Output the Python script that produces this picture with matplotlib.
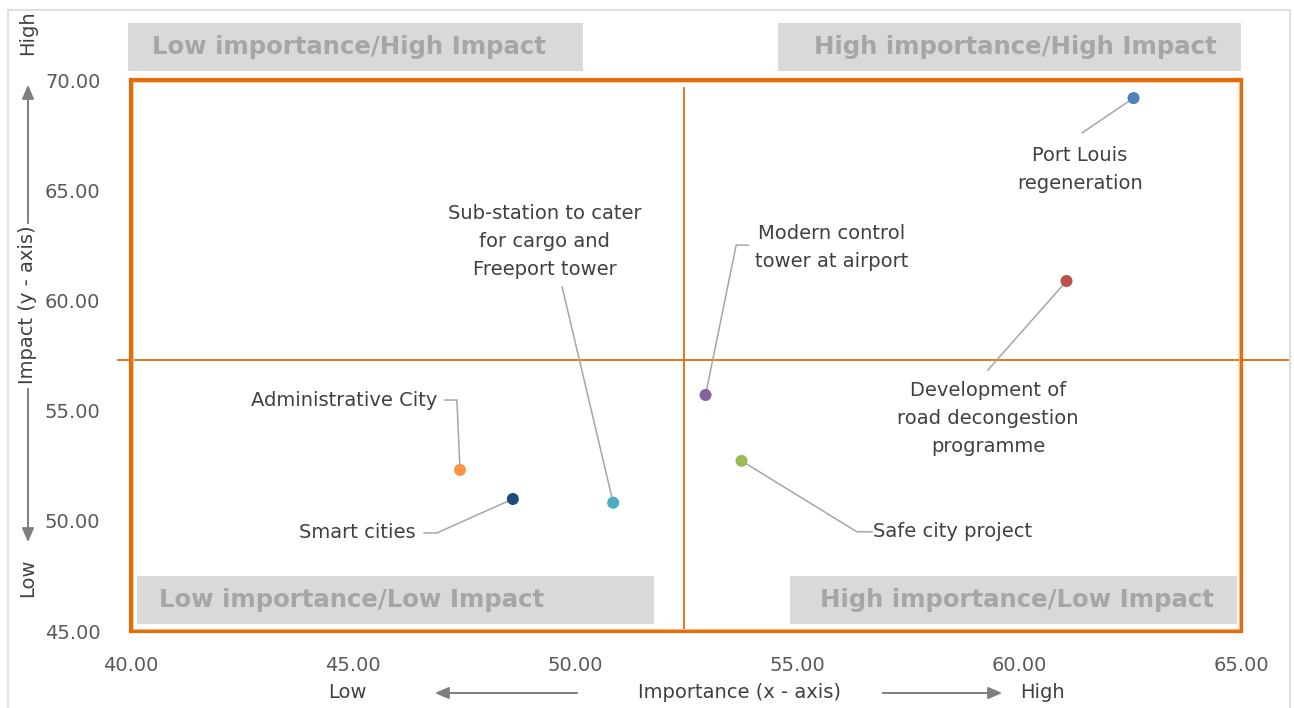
import matplotlib
matplotlib.use("Agg")
import matplotlib.pyplot as plt
from matplotlib.patches import Rectangle, FancyArrowPatch

# Project portfolio: importance vs impact
projects = [
    "Port Louis\nregeneration",
    "Development of\nroad decongestion\nprogramme",
    "Modern control\ntower at airport",
    "Safe city project",
    "Sub-station to cater\nfor cargo and\nFreeport tower",
    "Administrative City",
    "Smart cities",
]
importance = [62.58, 61.07, 52.94, 53.75, 50.86, 47.41, 48.60]
impact = [69.18, 60.88, 55.71, 52.72, 50.82, 52.31, 50.99]
colors = ["#4F81BD", "#C0504D", "#8064A2", "#9BBB59", "#4BACC6", "#F79646", "#1F497D"]

x_ticks = [40, 45, 50, 55, 60, 65]
y_ticks = [45, 50, 55, 60, 65, 70]
x_split = 52.45   # importance threshold
y_split = 57.30   # impact threshold

quadrants = ["Low importance/High Impact", "High importance/High Impact",
             "Low importance/Low Impact", "High importance/Low Impact"]

# label placement: (text x, text y, alignment, leader waypoints)
label_layout = [
    (61.37, 65.95, "center", [(61.42, 67.60)]),
    (59.30, 54.62, "center", [(59.30, 56.84)]),
    (54.05, 62.42, "left", [(53.90, 62.51), (53.63, 62.51)]),
    (56.71, 49.52, "left", [(56.69, 49.50), (56.35, 49.50)]),
    (49.32, 62.68, "center", [(49.71, 60.61)]),
    (46.91, 55.48, "right", [(47.07, 55.48), (47.34, 55.48)]),
    (46.40, 49.45, "right", [(46.60, 49.45), (46.89, 49.45)]),
]

FONT = "DejaVu Sans"
plt.rcParams["font.family"] = FONT

W, H = 1294, 708
fig = plt.figure(figsize=(W / 100, H / 100), dpi=100)
fig.patch.set_facecolor("white")


def fx(px):
    return px / W


def fy(py):
    return 1 - py / H


# chart-area border
fig.add_artist(Rectangle((fx(8), fy(712)), fx(1290) - fx(8), fy(10) - fy(712),
                         transform=fig.transFigure, fill=False,
                         edgecolor="#D9D9D9", lw=1.2))

ax_left, ax_right, ax_top, ax_bot = 131, 1241, 80, 631
ax = fig.add_axes([fx(ax_left), fy(ax_bot), fx(ax_right) - fx(ax_left),
                   fy(ax_top) - fy(ax_bot)])
ax.set_xlim(40, 65)
ax.set_ylim(45, 70)
ax.set_xticks(x_ticks)
ax.set_yticks(y_ticks)
ax.set_xticklabels([f"{v:.2f}" for v in x_ticks])
ax.set_yticklabels([f"{v:.2f}" for v in y_ticks])
ax.tick_params(length=0, labelsize=14, labelcolor="#595959")
ax.tick_params(axis="x", pad=18)
ax.tick_params(axis="y", pad=22)
for s in ax.spines.values():
    s.set_color("#E46C0A")
    s.set_linewidth(3)
# thin inner rule of the double-line frame
ax.add_patch(Rectangle((0.0015, 0.003), 0.997, 0.994, transform=ax.transAxes,
                       fill=False, edgecolor="#F6C9A3", lw=0.6, zorder=6))

# quadrant dividers
ax.plot([x_split, x_split], [45, 69.64], color="#E46C0A", lw=1.3, zorder=2)
ax.plot([39.71, 66.06], [y_split, y_split], color="#E46C0A", lw=1.3,
        zorder=2, clip_on=False)

# quadrant label boxes (axes fraction) and text centres
boxes = [
    (-0.003, 1.016, 0.410, 0.087),
    (0.583, 1.016, 0.417, 0.087),
    (0.005, 0.013, 0.466, 0.087),
    (0.594, 0.013, 0.402, 0.087),
]
text_cx = [0.196, 0.797, 0.199, 0.798]
for (bx, by, bw, bh), cx, txt in zip(boxes, text_cx, quadrants):
    ax.add_patch(Rectangle((bx, by), bw, bh, transform=ax.transAxes,
                           facecolor="#D9D9D9", edgecolor="none",
                           clip_on=False, zorder=1))
    ax.text(cx, by + bh / 2, txt, transform=ax.transAxes,
            ha="center", va="center", fontsize=17.6, fontweight="bold",
            color="#A6A6A6", zorder=2, clip_on=False)

# leader lines, markers and labels
for name, xv, yv, c, (tx, ty, ha, pts) in zip(projects, importance, impact,
                                              colors, label_layout):
    xs = [p[0] for p in pts] + [xv]
    ys = [p[1] for p in pts] + [yv]
    ax.plot(xs, ys, color="#A6A6A6", lw=1.1, zorder=3)
    ax.text(tx, ty, name, ha=ha, va="center", fontsize=14, color="#404040",
            linespacing=1.6, multialignment="center", zorder=4)
ax.scatter(importance, impact, s=75, c=colors, zorder=5, edgecolors="none")

# axis titles with direction arrows
arrow_kw = dict(arrowstyle="-|>,head_length=0.7,head_width=0.3",
                color="#7F7F7F", lw=1.4)
tcol = "#404040"
fig.text(fx(740), fy(693), "Importance (x - axis)", ha="center", va="center",
         fontsize=14, color=tcol)
fig.text(fx(347), fy(693), "Low", ha="center", va="center", fontsize=14, color=tcol)
fig.text(fx(1042), fy(693), "High", ha="center", va="center", fontsize=14, color=tcol)
fig.add_artist(FancyArrowPatch(
    (fx(580), fy(693)), (fx(432), fy(693)), transform=fig.transFigure,
    mutation_scale=12, **arrow_kw))
fig.add_artist(FancyArrowPatch(
    (fx(880), fy(693)), (fx(1005), fy(693)), transform=fig.transFigure,
    mutation_scale=12, **arrow_kw))

fig.text(fx(28), fy(305), "Impact (y - axis)", ha="center", va="center",
         rotation=90, fontsize=14, color=tcol)
fig.text(fx(28), fy(33), "High", ha="center", va="center", rotation=90,
         fontsize=14, color=tcol)
fig.text(fx(28), fy(578), "Low", ha="center", va="center", rotation=90,
         fontsize=14, color=tcol)
fig.add_artist(FancyArrowPatch(
    (fx(28), fy(226)), (fx(28), fy(82)), transform=fig.transFigure,
    mutation_scale=12, **arrow_kw))
fig.add_artist(FancyArrowPatch(
    (fx(28), fy(386)), (fx(28), fy(545)), transform=fig.transFigure,
    mutation_scale=12, **arrow_kw))

fig.savefig("out.png", dpi=100, facecolor="white")
